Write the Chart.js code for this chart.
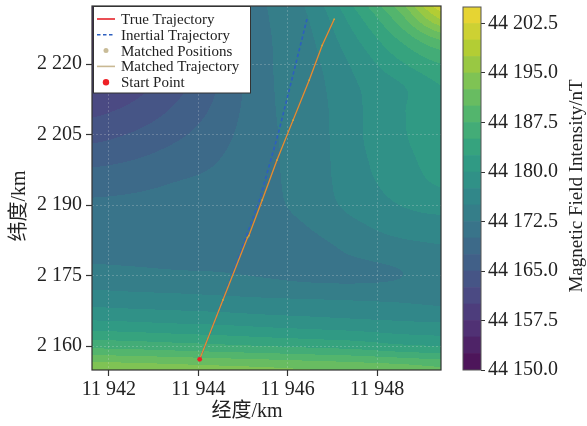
<!DOCTYPE html>
<html><head><meta charset="utf-8">
<script src="https://cdn.jsdelivr.net/npm/chart.js@4.4.1/dist/chart.umd.min.js"></script>
<style>
html,body{margin:0;padding:0;background:#fff;}
#wrap{position:relative;width:587px;height:426px;}
canvas{position:absolute;left:0;top:0;}
</style></head><body>
<div id="wrap"><canvas id="main" width="587" height="426"></canvas><canvas id="cbar" width="587" height="426"></canvas></div>
<script>
// ---------- data ----------
const xRange = [11941.62, 11949.43];
const yRange = [2154.9, 2232.4];
const xTicks = [11942, 11944, 11946, 11948];
const yTicks = [2160, 2175, 2190, 2205, 2220];
const cbTicks = [44150, 44157.5, 44165, 44172.5, 44180, 44187.5, 44195, 44202.5];
const levels = [44150,44152.5,44155,44157.5,44160,44162.5,44165,44167.5,44170,44172.5,44175,44177.5,
  44180,44182.5,44185,44187.5,44190,44192.5,44195,44197.5,44200,44202.5,44205];

const trueX = [11944.03, 11944.55, 11945.10, 11945.13, 11945.43, 11945.76, 11946.12, 11946.48, 11946.77, 11947.04];
const trueY = [2157.17, 2169.8, 2183.1, 2183.5, 2191.1, 2199.6, 2208.1, 2216.6, 2224.0, 2229.6];
const inertialX = [11944.03, 11944.55, 11945.07, 11945.36, 11945.79, 11946.11, 11946.43];
const inertialY = [2157.17, 2169.8, 2183.3, 2190.8, 2205.3, 2217.4, 2229.6];
const matchedX = [11944.03, 11944.55, 11945.10, 11945.13, 11945.43, 11945.76, 11946.12, 11946.48, 11946.77, 11947.04];
const matchedY = [2157.17, 2169.8, 2183.1, 2183.5, 2191.1, 2199.6, 2208.1, 2216.6, 2224.0, 2229.6];
const startPoint = [11944.03, 2157.17];

const fieldX = [11941.5, 11942.5, 11943.5, 11944.5, 11945.5, 11946.5, 11947.5, 11948.5, 11949.5];
const fieldY = [2155, 2160, 2165, 2170, 2175, 2180, 2185, 2190, 2195, 2200, 2205, 2210, 2215, 2220, 2225, 2230, 2235];
const fieldZ = [
  [44194.5,44194.2,44193.8,44193.4,44193,44192.5,44192,44191.5,44190.5],
  [44186.8,44186.5,44186,44185.5,44185,44184.5,44184,44183,44182.5],
  [44180.5,44180.2,44179.8,44179.5,44179,44178.6,44178.2,44177.8,44177.5],
  [44176.3,44176,44175.8,44175.5,44175.2,44175,44174.8,44174.6,44174.3],
  [44173.5,44173.3,44173,44172.8,44172.3,44171.8,44171.8,44172.4,44174],
  [44171.8,44171.6,44171.4,44171.3,44171.3,44171.6,44172.8,44173.8,44174.6],
  [44171,44171,44171,44171,44171.3,44172.5,44174.3,44175.8,44176.2],
  [44170.4,44170.5,44170.7,44170.9,44171.8,44173.5,44175.8,44177.5,44178.5],
  [44168.8,44169.3,44170,44170.6,44172,44173.6,44176.5,44178.5,44180.5],
  [44166.5,44167.3,44168.6,44170,44172,44173.6,44176.8,44179,44181.5],
  [44164,44165.2,44167,44169.2,44172,44173.6,44177,44179.5,44182.3],
  [44161.8,44163.2,44165.5,44168.4,44172,44173.7,44177,44179.6,44182.5],
  [44159.5,44161.4,44164.2,44167.8,44172,44173.9,44177.2,44179.6,44182.5],
  [44158,44160,44163.2,44167.3,44172,44174.2,44178,44182,44185],
  [44157,44159,44162.6,44167,44172,44174.6,44179.5,44185,44190],
  [44156,44158.3,44162.2,44166.8,44172.2,44175.2,44181.5,44189,44198.5],
  [44155.5,44158,44162,44166.7,44172.5,44176,44184,44193,44205]
];

// ---------- helpers ----------
const VIR = [[68,1,84],[72,36,117],[65,68,135],[53,95,141],[42,120,142],[33,145,140],
  [34,168,132],[68,191,112],[122,209,81],[189,223,38],[253,231,37]];
function viridis(t){
  t = Math.max(0, Math.min(1, t));
  const p = t*10, i = Math.min(9, Math.floor(p)), f = p - i;
  const a = VIR[i], b = VIR[i+1];
  const mix = 0.17, g = 118;
  return [0,1,2].map(c => Math.round((a[c] + (b[c]-a[c])*f)*(1-mix) + g*mix));
}
const nBands = levels.length - 1;
function bandColor(k){ return viridis(k/(nBands-1)); }
function rgb(c){ return 'rgb(' + c.join(',') + ')'; }
function fmt(v, dec){
  const s = v.toFixed(dec); const parts = s.split('.');
  const g = parts[0].replace(/\B(?=(\d{3})+(?!\d))/g, ' ');
  return parts.length > 1 ? g + '.' + parts[1] : g;
}
function cr(p0,p1,p2,p3,t){
  return 0.5*((2*p1) + (-p0+p2)*t + (2*p0-5*p1+4*p2-p3)*t*t + (-p0+3*p1-3*p2+p3)*t*t*t);
}
function sampleField(xv, yv){
  const nx = fieldX.length, ny = fieldY.length;
  let fx = (xv - fieldX[0])/(fieldX[1]-fieldX[0]);
  let fy = (yv - fieldY[0])/(fieldY[1]-fieldY[0]);
  fx = Math.max(0, Math.min(nx-1.0001, fx)); fy = Math.max(0, Math.min(ny-1.0001, fy));
  const i = Math.floor(fx), j = Math.floor(fy), tx = fx - i, ty = fy - j;
  const cl = (v, n) => Math.max(0, Math.min(n-1, v));
  const rows = [];
  for (let dj=-1; dj<=2; dj++){
    const r = fieldZ[cl(j+dj, ny)];
    rows.push(cr(r[cl(i-1,nx)], r[cl(i,nx)], r[cl(i+1,nx)], r[cl(i+2,nx)], tx));
  }
  return cr(rows[0], rows[1], rows[2], rows[3], ty);
}
function bandIndex(v){
  for (let k=0; k<nBands; k++) if (v < levels[k+1]) return k;
  return nBands-1;
}

const SERIF = '"Liberation Serif", "Times New Roman", "Noto Sans CJK SC", serif';

// ---------- plugins ----------
const contourPlugin = {
  id: 'contour',
  beforeDraw(chart){
    const {ctx, chartArea: a, scales: {x, y}} = chart;
    const L = Math.round(a.left), T = Math.round(a.top);
    const w = Math.round(a.right) - L, h = Math.round(a.bottom) - T;
    const img = ctx.createImageData(w, h);
    const cache = [];
    for (let k=0; k<nBands; k++) cache.push(bandColor(k));
    for (let j=0; j<h; j++){
      const yv = y.getValueForPixel(T + j + 0.5);
      for (let i=0; i<w; i++){
        const xv = x.getValueForPixel(L + i + 0.5);
        const c = cache[bandIndex(sampleField(xv, yv))];
        const o = (j*w + i)*4;
        img.data[o] = c[0]; img.data[o+1] = c[1]; img.data[o+2] = c[2]; img.data[o+3] = 255;
      }
    }
    ctx.putImageData(img, L, T);
  }
};

const decorPlugin = {
  id: 'decor',
  afterDraw(chart){
    const {ctx, chartArea: a} = chart;
    ctx.save();
    ctx.strokeStyle = '#333'; ctx.lineWidth = 1.2;
    ctx.strokeRect(a.left, a.top, a.right - a.left, a.bottom - a.top);
    ctx.fillStyle = '#222';
    ctx.font = '20px ' + SERIF;
    ctx.textAlign = 'center'; ctx.textBaseline = 'middle';
    ctx.fillText('经度/km', 247, 412);
    ctx.save(); ctx.translate(20, 206); ctx.rotate(-Math.PI/2);
    ctx.fillText('纬度/km', 0, 0); ctx.restore();
    const lx = 93.5, ly = 6.5, lw = 157, lh = 86.5;
    ctx.fillStyle = '#fff'; ctx.fillRect(lx, ly, lw, lh);
    ctx.strokeStyle = '#333'; ctx.lineWidth = 1; ctx.strokeRect(lx, ly, lw, lh);
    ctx.font = '15px ' + SERIF; ctx.textAlign = 'left'; ctx.textBaseline = 'middle';
    chart.data.datasets.forEach((ds, n) => {
      const yy = 19 + n*15.8;
      if (ds.legendType === 'line'){
        ctx.strokeStyle = ds.legendColor || ds.borderColor; ctx.lineWidth = 1.6;
        ctx.setLineDash(ds.borderDash || []);
        ctx.beginPath(); ctx.moveTo(97, yy); ctx.lineTo(115, yy); ctx.stroke();
        ctx.setLineDash([]);
      } else {
        ctx.fillStyle = ds.legendColor || ds.backgroundColor;
        ctx.beginPath(); ctx.arc(106, yy, ds.legendR, 0, Math.PI*2); ctx.fill();
      }
      ctx.fillStyle = '#222';
      ctx.fillText(ds.label, 121, yy + 1);
    });
    ctx.restore();
  }
};

const pts = (xs, ys) => xs.map((v, i) => ({x: v, y: ys[i]}));

new Chart(document.getElementById('main'), {
  type: 'scatter',
  data: {
    datasets: [
      {label: 'True Trajectory', data: pts(trueX, trueY), showLine: true, borderColor: '#e5232a',
       backgroundColor: '#e5232a', borderWidth: 1.1, pointRadius: 0, order: 3, legendType: 'line'},
      {label: 'Inertial Trajectory', data: pts(inertialX, inertialY), showLine: true, borderColor: '#2d5fbf',
       backgroundColor: '#2d5fbf', borderWidth: 1.6, borderDash: [3.5, 2.5], pointRadius: 0, order: 4, legendType: 'line'},
      {label: 'Matched Positions', data: pts(matchedX, matchedY), showLine: false,
       backgroundColor: 'rgba(212,168,70,0.9)', legendColor: '#c9bc98', borderWidth: 0, pointRadius: 0.9, order: 2, legendType: 'dot', legendR: 2.5},
      {label: 'Matched Trajectory', data: pts(matchedX, matchedY), showLine: true, borderColor: 'rgba(212,166,58,0.88)',
       legendColor: '#c9b893', backgroundColor: 'rgba(212,166,58,0.88)', borderWidth: 1.3, pointRadius: 0, order: 1, legendType: 'line'},
      {label: 'Start Point', data: [{x: startPoint[0], y: startPoint[1]}], showLine: false,
       backgroundColor: '#ee2026', borderWidth: 0, pointRadius: 2.4, order: 0, legendType: 'dot', legendR: 3.2}
    ]
  },
  options: {
    responsive: false, animation: false, devicePixelRatio: 1,
    layout: {padding: {left: 0, top: 6, right: 146, bottom: 0}},
    plugins: {legend: {display: false}, tooltip: {enabled: false}},
    scales: {
      x: {
        type: 'linear', min: xRange[0], max: xRange[1],
        afterBuildTicks: s => { s.ticks = xTicks.map(v => ({value: v})); },
        afterFit: s => { s.height = 56; s.paddingLeft = 0; s.paddingRight = 0; },
        ticks: {callback: v => fmt(v, 0), font: {family: SERIF, size: 20}, color: '#222', padding: 2, maxRotation: 0},
        grid: {color: 'rgba(225,225,225,0.32)', lineWidth: 0.8, tickLength: 6, tickColor: '#333', tickWidth: 1.2},
        border: {display: false, dash: [2, 2]}
      },
      y: {
        type: 'linear', min: yRange[0], max: yRange[1],
        afterBuildTicks: s => { s.ticks = yTicks.map(v => ({value: v})); },
        afterFit: s => { s.width = 92; s.paddingTop = 0; s.paddingBottom = 0; },
        ticks: {callback: v => fmt(v, 0), font: {family: SERIF, size: 20}, color: '#222', padding: 4},
        grid: {color: 'rgba(225,225,225,0.32)', lineWidth: 0.8, tickLength: 6, tickColor: '#333', tickWidth: 1.2},
        border: {display: false, dash: [2, 2]}
      }
    }
  },
  plugins: [contourPlugin, decorPlugin]
});

// ---------- colorbar ----------
const bandData = [];
for (let k = 0; k < nBands; k++) bandData.push([levels[k], levels[k+1]]);

const cbarPlugin = {
  id: 'cbarDecor',
  afterDraw(chart){
    const {ctx, chartArea: a} = chart;
    ctx.save();
    ctx.strokeStyle = '#555'; ctx.lineWidth = 1;
    ctx.strokeRect(a.left, a.top, a.right - a.left, a.bottom - a.top);
    ctx.fillStyle = '#222'; ctx.font = '19px ' + SERIF;
    ctx.textAlign = 'center'; ctx.textBaseline = 'middle';
    ctx.translate(577, 186); ctx.rotate(-Math.PI/2);
    ctx.fillText('Magnetic Field Intensity/nT', 0, 0);
    ctx.restore();
  }
};

new Chart(document.getElementById('cbar'), {
  type: 'bar',
  data: {
    labels: [''],
    datasets: bandData.map((b, k) => ({
      data: [b], backgroundColor: rgb(bandColor(k)), borderWidth: 0,
      grouped: false, barPercentage: 1, categoryPercentage: 1
    }))
  },
  options: {
    responsive: false, animation: false, devicePixelRatio: 1,
    layout: {padding: {left: 463, top: 7, right: 0, bottom: 56}},
    plugins: {legend: {display: false}, tooltip: {enabled: false}},
    scales: {
      x: {display: false},
      y: {
        position: 'right', min: levels[0], max: levels[levels.length-1],
        afterBuildTicks: s => { s.ticks = cbTicks.map(v => ({value: v})); },
        afterFit: s => { s.width = 106; s.paddingTop = 0; s.paddingBottom = 0; },
        ticks: {callback: v => fmt(v, 1), font: {family: SERIF, size: 20}, color: '#222', padding: 3},
        grid: {drawOnChartArea: false, tickLength: 4, tickColor: '#333', tickWidth: 1},
        border: {display: false}
      }
    }
  },
  plugins: [cbarPlugin]
});
</script>
</body></html>
